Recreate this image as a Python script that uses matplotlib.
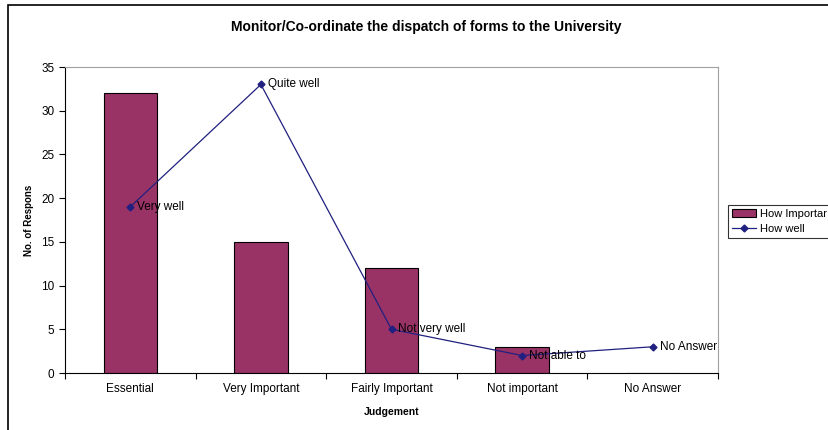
import matplotlib
matplotlib.use("Agg")
import matplotlib.pyplot as plt
import numpy as np
from matplotlib.patches import Rectangle

plt.rcParams['font.family'] = ['Liberation Sans', 'DejaVu Sans']

categories = ["Essential", "Very Important", "Fairly Important", "Not important", "No Answer"]
how_important = [32, 15, 12, 3, 0]
how_well = [19, 33, 5, 2, 3]
well_labels = ["Very well", "Quite well", "Not very well", "Not able to", "No Answer"]


def main():
    fig = plt.figure(figsize=(8.29, 4.30), dpi=100)
    ax = fig.add_axes([65 / 829, 1 - 373 / 430, (718 - 65) / 829, (373 - 67) / 430])

    x = np.arange(len(categories))
    bars = ax.bar(x, how_important, width=0.41, color="#993366", edgecolor="black",
                  linewidth=0.8, zorder=2)
    line, = ax.plot(x, how_well, color="#202080", linewidth=0.9, marker="D", markersize=3.5,
                    zorder=3)
    for xi, yi, lab in zip(x, how_well, well_labels):
        ax.annotate(lab, (xi, yi), xytext=(5, 0), textcoords="offset points",
                    va="center", ha="left", fontsize=8.5, zorder=4)

    ax.set_xlim(-0.5, len(categories) - 0.5)
    ax.set_ylim(0, 35)
    ax.set_yticks(range(0, 36, 5))
    ax.set_xticks(x)
    ax.set_xticklabels(categories, fontsize=8.5)
    ax.tick_params(axis="y", labelsize=8.5, direction="out", length=4, width=0.8)
    ax.tick_params(axis="x", length=0, pad=7)
    ax.set_xticks(np.arange(-0.5, len(categories), 1), minor=True)
    ax.tick_params(axis="x", which="minor", direction="out", length=4, width=0.8)

    for side in ["top", "right"]:
        ax.spines[side].set_color("#a0a0a0")
        ax.spines[side].set_linewidth(0.8)
    for side in ["left", "bottom"]:
        ax.spines[side].set_linewidth(0.8)

    ax.set_xlabel("Judgement", fontsize=7.5, fontweight="bold", labelpad=8.5)
    ax.set_ylabel("No. of Respons", fontsize=7, fontweight="bold", labelpad=5)
    fig.text(426 / 829, 1 - 27 / 430, "Monitor/Co-ordinate the dispatch of forms to the University",
             ha="center", va="center", fontsize=10, fontweight="bold")

    leg = fig.legend([bars, line], ["How Importar", "How well"], loc="upper left",
                     bbox_to_anchor=(728 / 829, 1 - 205 / 430),
                     fontsize=8, frameon=True, fancybox=False, edgecolor="black",
                     borderpad=0.35, handlelength=2.2, handletextpad=0.3, labelspacing=0.45,
                     borderaxespad=0)
    leg.get_frame().set_linewidth(0.8)

    fig.patches.append(Rectangle((8 / 829, -0.05), 1.1, 1 - 5 / 430 + 0.05,
                                 transform=fig.transFigure, fill=False,
                                 edgecolor="black", linewidth=1.2))

    fig.savefig("out.png", dpi=100)


if __name__ == "__main__":
    main()
